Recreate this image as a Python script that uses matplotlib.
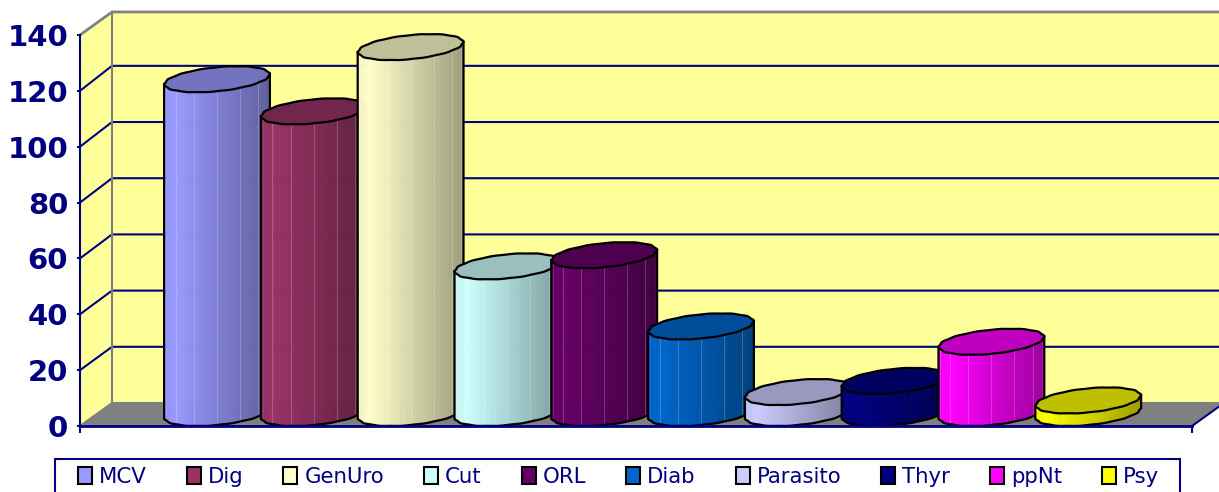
import numpy as np
import matplotlib
matplotlib.use('Agg')
import matplotlib.pyplot as plt
from matplotlib.patches import Patch, Polygon, Rectangle
from matplotlib.colors import to_rgb

# data
categories = ['MCV', 'Dig', 'GenUro', 'Cut', 'ORL', 'Diab', 'Parasito', 'Thyr', 'ppNt', 'Psy']
values = [119.5, 108, 131, 52.5, 56.5, 31, 7.5, 11.5, 25.5, 4.5]
colors = ['#9999FF', '#993366', '#FFFFCC', '#CCFFFF', '#660066',
          '#0066CC', '#CCCCFF', '#000080', '#FF00FF', '#FFFF00']
yticks = [0, 20, 40, 60, 80, 100, 120, 140]

NAVY = '#000080'
WALL = '#FFFF99'
GREY = '#808080'

# pixel scale of the picture, the axes fill the whole figure
PX_X = 96.8
PX_Y = 2.793
def xp(p):
    return (p - 217) / PX_X
def yp(p):
    return (426 - p) / PX_Y

fig = plt.figure(figsize=(12.19, 4.92), dpi=100)
ax = fig.add_axes([0, 0, 1, 1])
ax.set_xlim(xp(0), xp(1219))
ax.set_ylim(yp(492), yp(0))
ax.patch.set_visible(False)

# walls and floor
x0, x1 = xp(80), xp(1192)
dx, dy = 32 / PX_X, 23 / PX_Y
right = xp(1225)
top = yticks[-1]
ax.add_patch(Polygon([(x0 + dx, dy), (right, dy), (right, top + dy), (x0 + dx, top + dy)],
                     fc=WALL, ec='none', zorder=1))
ax.add_patch(Polygon([(x0, 0), (x0 + dx, dy), (x0 + dx, top + dy), (x0, top)],
                     fc=WALL, ec='none', zorder=1))
ax.add_patch(Polygon([(x0, 0), (x1, 0), (x1 + dx, dy), (right, dy), (x0 + dx, dy)],
                     fc=GREY, ec='none', zorder=1))
ax.add_patch(Polygon([(x1, 0), (right, 0), (right, dy), (x1 + dx, dy)], fc='white', ec='none', zorder=1))
ax.plot([x1, x1 + dx], [0, dy], color=NAVY, lw=1.5, zorder=2)

for v in yticks[1:-1]:
    back = v * 1.006 + dy  # back wall lines sit a touch higher than the front scale
    ax.plot([x0, x0 + dx, right], [v, back, back], color=NAVY, lw=1.5, zorder=2)
ax.plot([x0, x0 + dx, right], [top, top + dy, top + dy], color=GREY, lw=2, zorder=2)
ax.plot([x0 + dx, x0 + dx], [dy, top + dy], color=GREY, lw=1.5, zorder=2)
ax.plot([x0, x0 + dx, right], [0, dy, dy], color=GREY, lw=1.5, zorder=2)

# cylinders, built from facets with a slightly scalloped outline
a, b = 48.5 / PX_X, 20 / PX_X
ry = 13 / PX_Y
phi = np.arctan2(b, a)
half_w = np.hypot(a, b)

def ring(cx, cy, t):
    w = 1 + 0.012 * np.cos(14 * t)
    return cx + w * (a * np.cos(t) + b * np.sin(t)), cy + w * ry * np.sin(t)

def shade(c, u):
    f = np.interp(u, [0, 0.12, 1], [0.96, 1.0, 0.62])
    return tuple(np.array(to_rgb(c)) * f)

z = 3
for i, (val, col) in enumerate(zip(values, colors)):
    base = ry
    cy_top = base + val
    t = np.linspace(np.pi + phi, 2 * np.pi + phi, 49)
    xs, ys = ring(i, base, t)
    _, ys_top = ring(i, cy_top, t)
    for k in range(len(t) - 1):
        u = (0.5 * (xs[k] + xs[k + 1]) - i + half_w) / (2 * half_w)
        c = shade(col, u)
        ax.add_patch(Polygon([(xs[k], ys[k]), (xs[k + 1], ys[k + 1]),
                              (xs[k + 1], ys_top[k + 1]), (xs[k], ys_top[k])],
                             fc=c, ec=c, lw=0.5, zorder=z))
        if k % 7 == 3 and val > 15:
            ax.plot([xs[k], xs[k]], [ys[k], ys_top[k]], color='white', alpha=0.2, lw=0.8, zorder=z)
    # outline of the side
    ax.plot(np.r_[xs[0], xs, xs[-1]], np.r_[ys_top[0], ys, ys_top[-1]],
            color='black', lw=1.6, zorder=z + 0.1, solid_joinstyle='round')
    # top face
    tt = np.linspace(0, 2 * np.pi, 97)
    xt, yt = ring(i, cy_top, tt)
    ax.add_patch(Polygon(np.c_[xt, yt], fc=tuple(np.array(to_rgb(col)) * 0.75), ec='black',
                         lw=1.6, zorder=z + 0.2))
    z += 1

# front axes
for side in ['top', 'right']:
    ax.spines[side].set_visible(False)
ax.spines['left'].set_position(('data', x0))
ax.spines['left'].set_bounds(0, top)
ax.spines['bottom'].set_position(('data', 0))
ax.spines['bottom'].set_bounds(x0, x1)
for side in ['left', 'bottom']:
    ax.spines[side].set_color(NAVY)
    ax.spines[side].set_zorder(50)
ax.spines['left'].set_linewidth(1.5)
ax.spines['bottom'].set_linewidth(2)
ax.set_yticks(yticks)
ax.set_xticks([x0, x1])
ax.set_xticklabels(['', ''])
ax.tick_params(axis='y', colors=NAVY, length=2.5, width=1.5, pad=6, labelsize=21)
ax.tick_params(axis='x', colors=NAVY, length=5, width=1.5)
for lab in ax.get_yticklabels():
    lab.set_fontweight('bold')

# legend, the frame runs off the bottom of the picture
ax.add_patch(Rectangle((xp(55), yp(500)), (1180 - 55) / PX_X, (500 - 459) / PX_Y,
                       fc='white', ec=NAVY, lw=1.5, zorder=60))
handles = [Patch(fc=c, ec='black', lw=1.5, label=n) for c, n in zip(colors, categories)]
leg = ax.legend(handles=handles, ncol=len(categories), loc='center left',
                bbox_to_anchor=(xp(78), yp(477)), bbox_transform=ax.transData,
                frameon=False, fontsize=15.3, borderpad=0, borderaxespad=0,
                columnspacing=1.88, handlelength=0.66, handleheight=0.8, handletextpad=0.33,
                labelcolor=NAVY)
leg.set_zorder(70)

fig.savefig('out.png', dpi=100)
